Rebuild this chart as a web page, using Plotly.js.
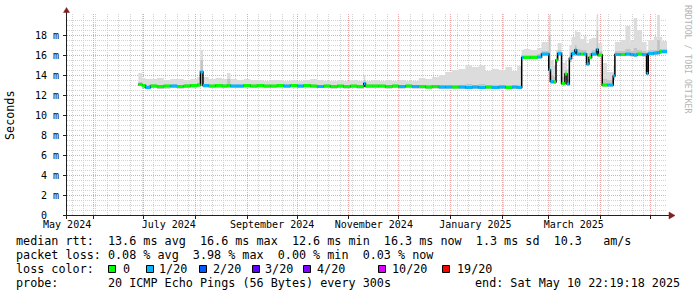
<!DOCTYPE html>
<html><head><meta charset="utf-8">
<script src="https://cdn.plot.ly/plotly-3.0.1.min.js"></script>
<style>html,body{margin:0;padding:0;background:#fff;}#chart{width:697px;height:297px;}</style>
</head><body><div id="chart"></div>
<script>
// ---------- data ----------
const startTime = '2024-05-15 22:19:18';
const endTime = '2025-05-10 22:19:18';
const sampleTimes = [
 '2024-06-27 18:00','2024-06-30','2024-07-02','2024-07-05','2024-07-09','2024-07-13','2024-07-17','2024-07-21','2024-07-25','2024-07-29',
 '2024-08-02','2024-08-04','2024-08-05 12:00','2024-08-09','2024-08-13','2024-08-17','2024-08-20','2024-08-22','2024-08-26','2024-08-30',
 '2024-09-03','2024-09-07','2024-09-11','2024-09-15','2024-09-19','2024-09-23','2024-09-27','2024-10-01','2024-10-05','2024-10-09',
 '2024-10-13','2024-10-17','2024-10-21','2024-10-25','2024-10-29','2024-11-02','2024-11-06','2024-11-10','2024-11-11','2024-11-15',
 '2024-11-19','2024-11-23','2024-11-27','2024-12-01','2024-12-05','2024-12-09','2024-12-13','2024-12-17','2024-12-21','2024-12-25',
 '2024-12-29','2025-01-02','2025-01-06','2025-01-10','2025-01-14','2025-01-18','2025-01-22','2025-01-26','2025-01-30','2025-02-03',
 '2025-02-07','2025-02-10','2025-02-12 18:00','2025-02-14','2025-02-18','2025-02-22','2025-02-24 16:00','2025-03-01','2025-03-02','2025-03-04',
 '2025-03-05 08:00','2025-03-06 08:00','2025-03-08 16:00','2025-03-10 16:00','2025-03-11 22:00','2025-03-13 08:00','2025-03-14 16:00','2025-03-16 16:00','2025-03-17 16:00','2025-03-20',
 '2025-03-22','2025-03-23 16:00','2025-03-25 02:00','2025-03-26 16:00','2025-03-29 16:00','2025-03-30 16:00','2025-04-02 02:00','2025-04-05','2025-04-08 16:00','2025-04-09 16:00',
 '2025-04-13','2025-04-16','2025-04-19','2025-04-21','2025-04-23','2025-04-26','2025-04-28 16:00','2025-04-29 16:00','2025-05-03','2025-05-05',
 '2025-05-06 16:00','2025-05-08'
];
// median rtt in ms
const medianRtt = [
 13.05,12.95,12.75,12.90,12.85,12.90,12.90,12.85,12.90,12.95,
 13.00,14.30,12.95,12.90,12.95,12.90,12.95,12.90,12.90,12.95,
 12.90,12.95,12.90,12.90,12.95,12.90,12.95,12.90,12.95,12.90,
 12.85,12.90,12.85,12.90,12.85,12.90,12.85,13.15,12.90,12.90,
 12.90,12.85,12.90,12.85,12.90,12.85,12.85,12.80,12.85,12.80,
 12.80,12.80,12.80,12.75,12.80,12.75,12.80,12.75,12.80,12.75,
 12.80,12.75,15.75,15.75,15.75,15.80,16.10,14.50,13.35,13.30,
 15.50,16.15,13.15,14.10,13.10,15.65,16.15,16.50,16.10,16.10,
 16.10,15.10,15.75,16.10,16.55,16.00,13.00,13.00,13.90,16.05,
 16.05,16.10,16.05,16.00,16.10,16.05,14.15,16.15,16.20,16.25,
 16.35,16.35
];
// lost pings out of 20
const lossCount = [
 0,0,1,0,0,0,1,0,0,0,
 0,1,1,0,0,0,0,1,1,0,
 0,0,0,0,0,1,0,1,0,0,
 1,0,0,0,0,0,0,1,0,0,
 0,0,0,1,0,1,0,0,0,1,
 1,0,1,1,1,1,0,1,1,0,
 1,1,1,0,0,1,1,1,1,0,
 0,1,0,0,1,1,1,1,1,0,
 1,1,0,1,1,0,0,1,1,1,
 0,1,1,1,0,1,1,1,1,1,
 0,1
];
// smoke (ping spread) in ms
const smokeLow = [
 12.90,12.70,12.60,12.70,12.60,12.65,12.70,12.65,12.70,12.75,
 12.80,13.00,12.75,12.70,12.70,12.70,12.70,12.70,12.70,12.75,
 12.70,12.75,12.70,12.70,12.75,12.70,12.75,12.70,12.75,12.70,
 12.70,12.70,12.65,12.70,12.65,12.70,12.65,12.80,12.70,12.70,
 12.70,12.65,12.70,12.65,12.70,12.65,12.65,12.60,12.65,12.60,
 12.60,12.60,12.60,12.60,12.60,12.60,12.60,12.60,12.60,12.60,
 12.60,12.60,15.60,15.60,15.60,15.65,15.90,13.30,13.10,13.10,
 15.20,15.90,13.00,13.50,12.95,15.30,15.90,16.20,15.90,15.90,
 15.90,14.90,15.60,15.90,16.20,15.80,12.85,12.85,13.50,15.90,
 15.90,15.90,15.85,15.80,15.90,15.85,14.00,15.95,16.00,16.00,
 16.10,16.15
];
const smokeMid = [
 13.30,13.10,13.00,13.10,13.00,13.05,13.10,13.00,13.10,13.10,
 13.20,15.50,13.10,13.05,13.10,13.05,13.60,13.05,13.05,13.10,
 13.05,13.10,13.05,13.05,13.10,13.05,13.10,13.05,13.10,13.05,
 13.00,13.05,13.00,13.05,13.00,13.05,13.00,13.50,13.05,13.05,
 13.05,13.00,13.05,13.00,13.05,13.00,13.00,13.00,13.00,13.00,
 13.00,13.00,13.00,13.10,13.00,13.10,13.00,13.00,13.00,13.00,
 13.00,13.00,16.00,16.00,16.00,16.10,16.40,18.00,14.00,13.80,
 15.90,16.50,13.80,14.50,13.60,16.00,16.50,17.00,16.60,16.50,
 16.50,15.80,16.20,16.50,18.50,16.40,13.60,13.50,14.20,16.40,
 16.40,16.60,16.40,16.70,16.50,16.40,15.00,16.50,16.50,17.50,
 16.60,16.60
];
const smokeHigh = [
 14.20,13.70,13.60,13.60,13.70,13.50,13.60,13.60,13.50,13.60,
 13.80,16.50,13.80,13.60,13.70,13.60,14.20,13.60,13.50,13.60,
 13.50,13.50,13.40,13.50,13.50,13.40,13.50,13.40,13.50,13.60,
 13.50,13.40,13.40,13.50,13.40,13.50,13.40,14.00,13.40,13.50,
 13.40,13.50,13.40,13.50,13.40,13.40,13.70,13.60,13.80,14.00,
 14.30,14.50,14.60,15.00,14.80,15.00,14.40,14.60,14.50,14.80,
 14.40,14.90,16.50,16.60,16.50,16.70,17.30,20.00,15.50,15.00,
 16.50,17.20,15.20,15.50,14.60,17.00,17.80,18.50,18.30,17.60,
 17.90,17.20,17.60,17.70,20.00,17.20,15.20,14.30,15.00,17.30,
 17.50,18.90,17.40,19.70,18.50,17.30,16.50,17.50,17.80,20.00,
 17.80,17.40
];
// axes
const monthStarts = ['2024-06-01','2024-07-01','2024-08-01','2024-09-01','2024-10-01','2024-11-01','2024-12-01','2025-01-01','2025-02-01','2025-03-01','2025-04-01','2025-05-01'];
const monthLabelDates = ['2024-05-16','2024-07-16','2024-09-16','2024-11-16','2025-01-16','2025-03-16'];
const monthLabels = ['May 2024','July 2024','September 2024','November 2024','January 2025','March 2025'];
const yTickValues = [0,2,4,6,8,10,12,14,16,18];
const yTickLabels = ['0\u00a0\u00a0','2 m','4 m','6 m','8 m','10 m','12 m','14 m','16 m','18 m'];
// legend
const lossLevels = [0,1,2,3,4,10,19];
const lossLabels = ['0','1/20','2/20','3/20','4/20','10/20','19/20'];
const lossColors = ['#00ff00','#00b8ff','#0059ff','#5e00ff','#7e00ff','#dd00ff','#ff0000'];
const rttLine = 'median rtt:  13.6 ms avg  16.6 ms max  12.6 ms min  16.3 ms now  1.3 ms sd  10.3   am/s';
const lossLine = 'packet loss: 0.08 % avg  3.98 % max  0.00 % min  0.03 % now';
const probeLine = ['probe:','20 ICMP Echo Pings (56 Bytes) every 300s','end: Sat May 10 22:19:18 2025'];

// ---------- build ----------
const FONT = 'DejaVu Sans Mono, monospace';
const nb = s => s.replace(/ /g, '\u00a0');
const tx = sampleTimes.concat([endTime]);
const ext = a => a.concat([a[a.length-1]]);

const traces = [];
traces.push({x:tx, y:ext(smokeLow), mode:'lines', line:{width:0, shape:'hv'}, hoverinfo:'skip', showlegend:false});
traces.push({x:tx, y:ext(smokeHigh), mode:'lines', line:{width:0, shape:'hv'}, fill:'tonexty', fillcolor:'#dcdcdc', hoverinfo:'skip', showlegend:false});
traces.push({x:tx, y:ext(smokeLow), mode:'lines', line:{width:0, shape:'hv'}, hoverinfo:'skip', showlegend:false});
traces.push({x:tx, y:ext(smokeMid), mode:'lines', line:{width:0, shape:'hv'}, fill:'tonexty', fillcolor:'#c4c4c4', hoverinfo:'skip', showlegend:false});
traces.push({x:tx, y:ext(medianRtt), mode:'lines', line:{width:1.5, color:'#000000', shape:'hv'}, hoverinfo:'skip', showlegend:false});
lossLevels.forEach((lv, k) => {
  const xs = [], ys = [];
  for (let i = 0; i < sampleTimes.length; i++) {
    if (lossCount[i] === lv) { xs.push(tx[i], tx[i+1], null); ys.push(medianRtt[i], medianRtt[i], null); }
  }
  if (xs.length) traces.push({x:xs, y:ys, mode:'lines', line:{width:3, color:lossColors[k]}, hoverinfo:'skip', showlegend:false});
});
traces.push({x:[], y:[], xaxis:'x2', mode:'lines', showlegend:false});

const L = 67, T = 14, W = 600, H = 201, B = T + H;
const px = p => (p - L) / W;
const py = p => (B - p) / H;

const annotations = [];
const txt = (text, x, y, opts) => annotations.push(Object.assign({text:nb(text), xref:'paper', yref:'paper', x:px(x), y:py(y), showarrow:false, xanchor:'left', yanchor:'middle', borderpad:0, font:{family:FONT, size:11.75, color:'#000'}}, opts||{}));
txt(rttLine, 15, 241);
txt(lossLine, 15, 255);
txt('loss color:', 15, 269);
const boxX = [108,146,199,252,303,378,442];
const labX = [122,158,212,264,316,391,456];
lossLabels.forEach((s,i)=>txt(s, labX[i], 269));
txt(probeLine[0], 15, 283); txt(probeLine[1], 107, 283);
txt(probeLine[2], 681, 283, {xanchor:'right'});
txt('Seconds', 10, 115, {textangle:-90, xanchor:'center'});
txt('RRDTOOL / TOBI OETIKER', 688, 59, {textangle:90, xanchor:'center', font:{family:FONT, size:8.2, color:'#b4b4b4'}});

const shapes = [];
lossColors.forEach((c,i)=>shapes.push({type:'rect', xref:'paper', yref:'paper', x0:px(boxX[i]+0.5), x1:px(boxX[i]+7.5), y0:py(265.5), y1:py(272.5), fillcolor:c, line:{color:'#000', width:1}}));
const AX = '#1f1f1f', AR = '#801f1f';
shapes.push({type:'line', xref:'paper', yref:'paper', x0:px(63), x1:px(670), y0:py(215.5), y1:py(215.5), line:{color:AX, width:1}});
shapes.push({type:'line', xref:'paper', yref:'paper', x0:px(66.5), x1:px(66.5), y0:py(219), y1:py(12), line:{color:AX, width:1}});
const pth = pts => 'M' + pts.map(p => px(p[0]) + ',' + py(p[1])).join(' L') + ' Z';
shapes.push({type:'path', xref:'paper', yref:'paper', path:pth([[669,212],[675,215.5],[669,219]]), fillcolor:AR, line:{color:AR, width:0.5}});
shapes.push({type:'path', xref:'paper', yref:'paper', path:pth([[63.5,12.5],[66.5,7.5],[69.5,12.5]]), fillcolor:AR, line:{color:AR, width:0.5}});

const layout = {
  width:697, height:297, margin:{l:L, r:697-L-W, t:T, b:297-B, pad:0},
  paper_bgcolor:'#ffffff', plot_bgcolor:'#ffffff', showlegend:false,
  xaxis:{type:'date', range:[startTime, endTime], tickmode:'array', tickvals:monthStarts, showticklabels:false,
    showgrid:true, gridcolor:'#eaa6a6', griddash:'1px,1px', gridwidth:1, zeroline:false, showline:false,
    ticks:'outside', ticklen:3, tickcolor:AX, tickwidth:1,
    minor:{tickmode:'linear', tick0:'2024-05-26', dtick:7*86400000, showgrid:true, gridcolor:'#d2d2d2', griddash:'1px,1px', gridwidth:1, ticks:''}},
  xaxis2:{type:'date', overlaying:'x', anchor:'y', side:'bottom', range:[startTime, endTime], tickmode:'array', tickvals:monthLabelDates, ticktext:monthLabels,
    showgrid:false, zeroline:false, showline:false, ticks:'', tickfont:{family:FONT, size:10, color:'#000'}, ticklabelstandoff:2},
  yaxis:{range:[0, 20.1], tickmode:'array', tickvals:yTickValues, ticktext:yTickLabels, tickfont:{family:FONT, size:10, color:'#000'},
    showgrid:true, gridcolor:'#eaa6a6', griddash:'1px,1px', gridwidth:1, zeroline:false, showline:false,
    ticks:'outside', ticklen:3, tickcolor:AX, tickwidth:1, ticklabelstandoff:2,
    minor:{tickmode:'linear', tick0:0, dtick:0.5, showgrid:true, gridcolor:'#d2d2d2', griddash:'1px,1px', gridwidth:1, ticks:''}},
  annotations, shapes
};
Plotly.newPlot('chart', traces, layout, {staticPlot:true, displayModeBar:false});
</script></body></html>
